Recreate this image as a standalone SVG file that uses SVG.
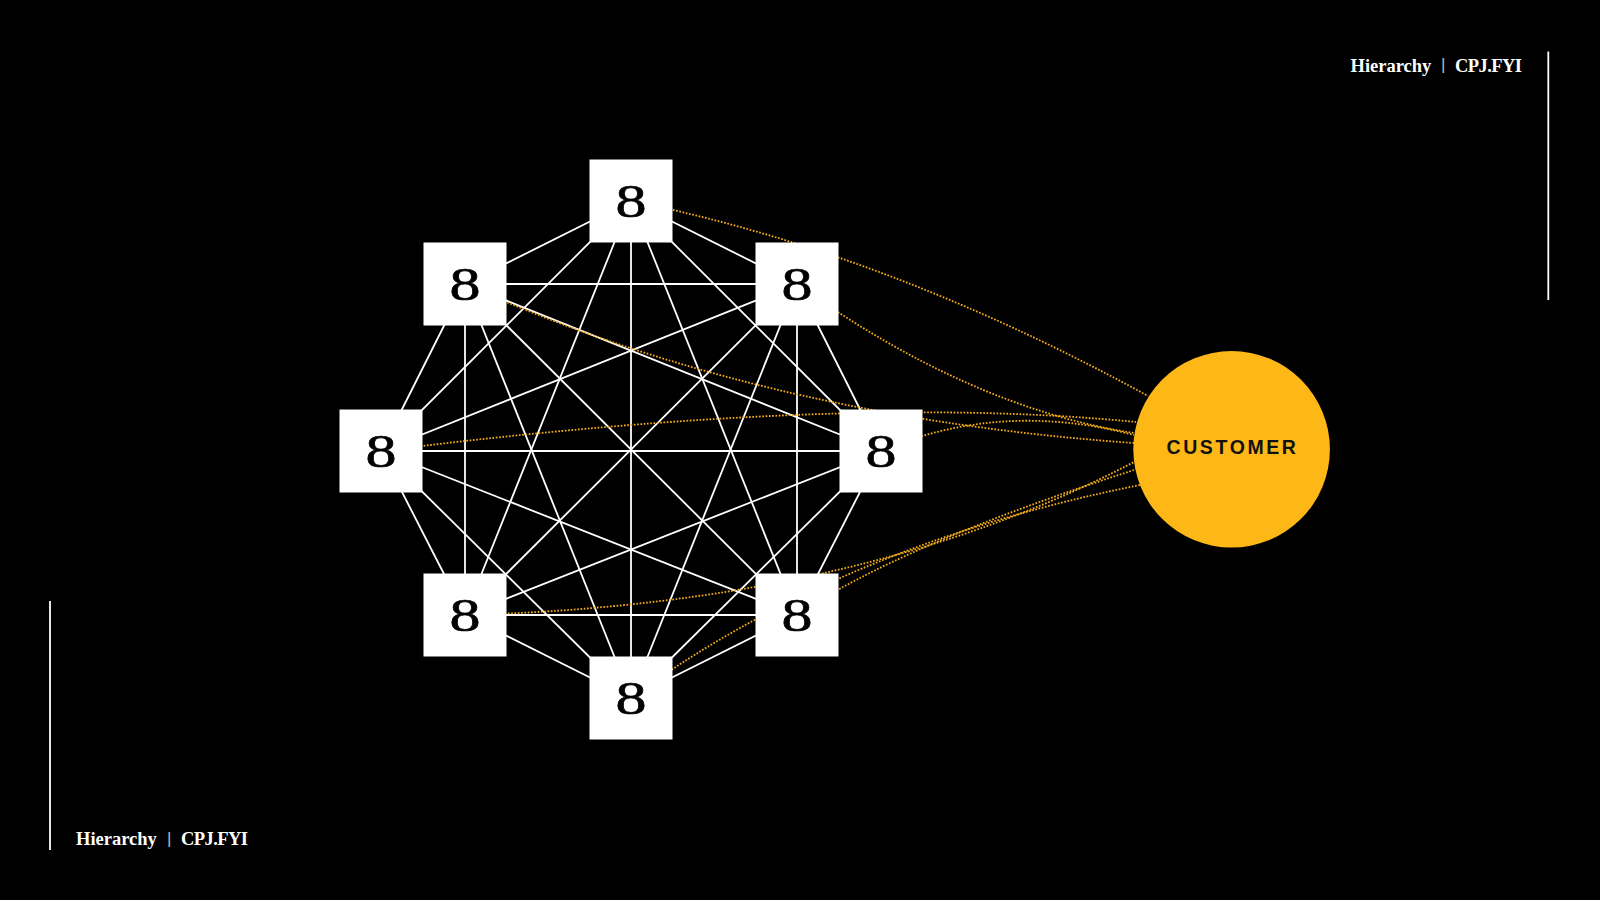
<svg xmlns="http://www.w3.org/2000/svg" width="1600" height="900" viewBox="0 0 1600 900">
<style>
.bg{fill:#000}
.edge{stroke:#fff;stroke-width:1.8;fill:none}
.dot{stroke:#F3AB1A;stroke-width:1.8;fill:none;stroke-dasharray:1.7 1.6}
.box{fill:#fff}
.num{font-family:"Liberation Serif","DejaVu Serif",serif;font-size:47px;fill:#000;stroke:#000;stroke-width:0.6;text-anchor:middle}
.hdr{font-family:"Liberation Serif","DejaVu Serif",serif;font-size:18.5px;font-weight:bold;fill:#fff}
.tight{letter-spacing:-0.55px}
.sep{font-family:"Liberation Sans","DejaVu Sans",sans-serif;font-size:17px;fill:#bbb}
.rule{stroke:#fff;stroke-width:1.8}
</style>
<rect class="bg" x="0" y="0" width="1600" height="900"/>
<g id="connectors">
<g id="mesh">
<line class="edge" x1="631" y1="201" x2="797" y2="284"/>
<line class="edge" x1="631" y1="201" x2="881" y2="451"/>
<line class="edge" x1="631" y1="201" x2="797" y2="615"/>
<line class="edge" x1="631" y1="201" x2="631" y2="698"/>
<line class="edge" x1="631" y1="201" x2="465" y2="615"/>
<line class="edge" x1="631" y1="201" x2="381" y2="451"/>
<line class="edge" x1="631" y1="201" x2="465" y2="284"/>
<line class="edge" x1="797" y1="284" x2="881" y2="451"/>
<line class="edge" x1="797" y1="284" x2="797" y2="615"/>
<line class="edge" x1="797" y1="284" x2="631" y2="698"/>
<line class="edge" x1="797" y1="284" x2="465" y2="615"/>
<line class="edge" x1="797" y1="284" x2="381" y2="451"/>
<line class="edge" x1="797" y1="284" x2="465" y2="284"/>
<line class="edge" x1="881" y1="451" x2="797" y2="615"/>
<line class="edge" x1="881" y1="451" x2="631" y2="698"/>
<line class="edge" x1="881" y1="451" x2="465" y2="615"/>
<line class="edge" x1="881" y1="451" x2="381" y2="451"/>
<line class="edge" x1="881" y1="451" x2="465" y2="284"/>
<line class="edge" x1="797" y1="615" x2="631" y2="698"/>
<line class="edge" x1="797" y1="615" x2="465" y2="615"/>
<line class="edge" x1="797" y1="615" x2="381" y2="451"/>
<line class="edge" x1="797" y1="615" x2="465" y2="284"/>
<line class="edge" x1="631" y1="698" x2="465" y2="615"/>
<line class="edge" x1="631" y1="698" x2="381" y2="451"/>
<line class="edge" x1="631" y1="698" x2="465" y2="284"/>
<line class="edge" x1="465" y1="615" x2="381" y2="451"/>
<line class="edge" x1="465" y1="615" x2="465" y2="284"/>
<line class="edge" x1="381" y1="451" x2="465" y2="284"/>
</g>
<g id="links">
<path class="dot" d="M631,201 Q886,252 1148,396"/>
<path class="dot" d="M797,284 Q970,408 1134,433"/>
<path class="dot" d="M465,284 Q760,417 1134,443"/>
<path class="dot" d="M381,451 Q842,393 1136,422"/>
<path class="dot" d="M881,451 Q1000,400 1134,435"/>
<path class="dot" d="M465,615 Q860,605 1134,462"/>
<path class="dot" d="M797,615 Q900,545 1134,470"/>
<path class="dot" d="M631,698 Q840,545 1140,485"/>
</g>
</g>
<g id="n-top"><rect class="box" x="589.5" y="159.5" width="83" height="83"/><text class="num" transform="translate(631,217) scale(1.32,1)">8</text></g>
<g id="n-topright"><rect class="box" x="755.5" y="242.5" width="83" height="83"/><text class="num" transform="translate(797,300) scale(1.32,1)">8</text></g>
<g id="n-right"><rect class="box" x="839.5" y="409.5" width="83" height="83"/><text class="num" transform="translate(881,467) scale(1.32,1)">8</text></g>
<g id="n-bottomright"><rect class="box" x="755.5" y="573.5" width="83" height="83"/><text class="num" transform="translate(797,631) scale(1.32,1)">8</text></g>
<g id="n-bottom"><rect class="box" x="589.5" y="656.5" width="83" height="83"/><text class="num" transform="translate(631,714) scale(1.32,1)">8</text></g>
<g id="n-bottomleft"><rect class="box" x="423.5" y="573.5" width="83" height="83"/><text class="num" transform="translate(465,631) scale(1.32,1)">8</text></g>
<g id="n-left"><rect class="box" x="339.5" y="409.5" width="83" height="83"/><text class="num" transform="translate(381,467) scale(1.32,1)">8</text></g>
<g id="n-topleft"><rect class="box" x="423.5" y="242.5" width="83" height="83"/><text class="num" transform="translate(465,300) scale(1.32,1)">8</text></g>
<g id="n-customer">
<circle cx="1231.6" cy="449.3" r="98.3" fill="#FDB817"/>
<text x="1166.5" y="454" font-family="'Liberation Sans','DejaVu Sans',sans-serif" font-size="19.5" font-weight="bold" letter-spacing="2.6" fill="#111">CUSTOMER</text>
</g>
<g id="header">
<text class="hdr" x="1350.5" y="71.5">Hierarchy</text>
<text class="sep" x="1441" y="70">|</text>
<text class="hdr tight" x="1521.5" y="71.5" text-anchor="end">CPJ.FYI</text>
<line class="rule" x1="1548.3" y1="51.5" x2="1548.3" y2="300"/>
</g>
<g id="footer">
<text class="hdr" x="76" y="845">Hierarchy</text>
<text class="sep" x="167" y="843.5">|</text>
<text class="hdr tight" x="247.5" y="845" text-anchor="end">CPJ.FYI</text>
<line class="rule" x1="50" y1="601" x2="50" y2="850"/>
</g>
</svg>
